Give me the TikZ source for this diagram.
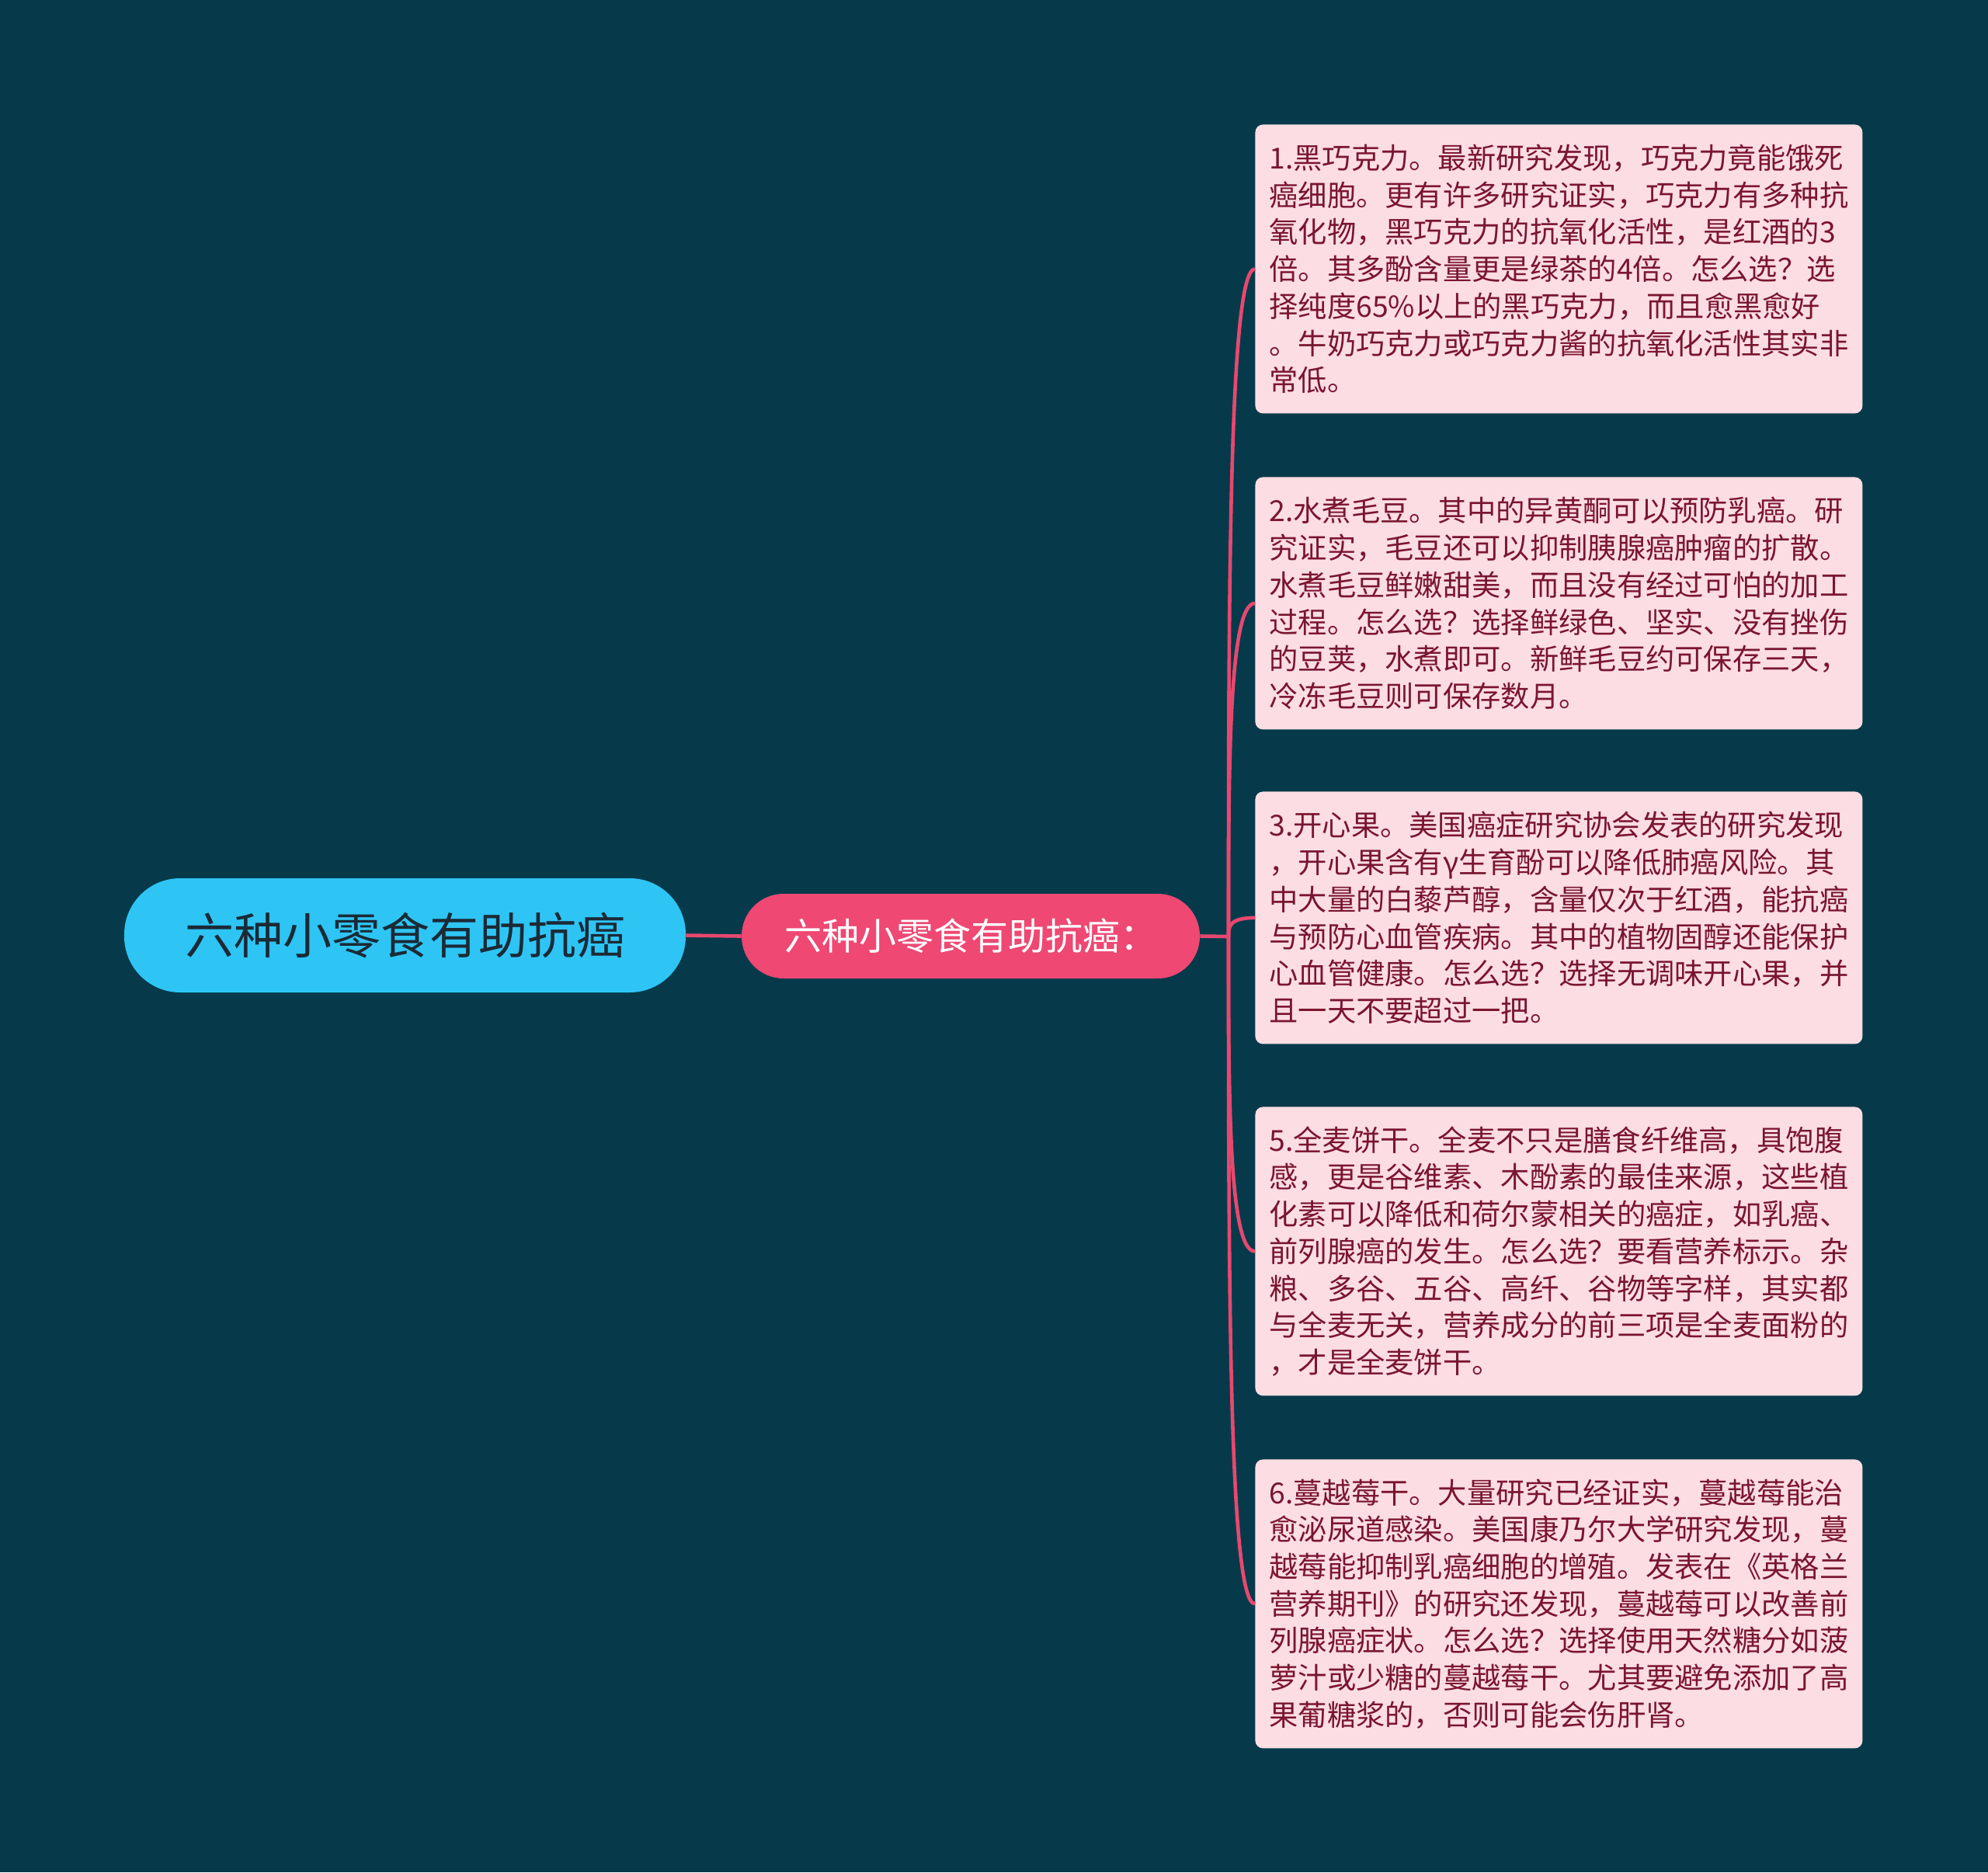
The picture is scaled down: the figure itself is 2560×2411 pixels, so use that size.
\documentclass[tikz,border=0pt]{standalone}
\usepackage{fontspec}
\setmainfont{Noto Sans CJK SC}
\usetikzlibrary{calc}
\definecolor{bgcol}{HTML}{063A4B}
\definecolor{rootfill}{HTML}{2EC5F5}
\definecolor{roottext}{HTML}{1B2A35}
\definecolor{mainfill}{HTML}{EE4873}
\definecolor{leaffill}{HTML}{FCDDE3}
\definecolor{leaftext}{HTML}{7A1530}
\definecolor{conncol}{HTML}{E8486F}
\begin{document}
\begin{tikzpicture}[x=0.5pt,y=-0.5pt,
  rootbox/.style={fill=rootfill, text=roottext, rounded corners=36pt,
    minimum width=361.5pt, minimum height=73.5pt, inner sep=0pt,
    font=\fontsize{31.5pt}{36pt}\selectfont},
  mainbox/.style={fill=mainfill, text=white, rounded corners=27pt,
    minimum width=295pt, minimum height=54.5pt, inner sep=0pt,
    font=\fontsize{24pt}{28pt}\selectfont},
  leafbox/.style={fill=leaffill, text=leaftext, rounded corners=5pt,
    anchor=north west, text width=373pt, align=left, inner xsep=9pt, inner ysep=0pt,
    font=\fontsize{18.65pt}{23.85pt}\selectfont},
  conn/.style={draw=conncol, line width=2.3pt}
]
\fill[bgcol] (0,0) rectangle (2560,2411);
\useasboundingbox (0,0) rectangle (2560,2411);

\node[rootbox] (root) at (521.5,1204.5) {六种小零食有助抗癌};
\node[mainbox] (main) at (1250,1205.5) {六种小零食有助抗癌：};

\node[leafbox, minimum height=186pt] (b1) at (1616,160) {1.黑巧克力。最新研究发现，巧克力竟能饿死\\癌细胞。更有许多研究证实，巧克力有多种抗\\氧化物，黑巧克力的抗氧化活性，是红酒的3\\倍。其多酚含量更是绿茶的4倍。怎么选？选\\择纯度65\%以上的黑巧克力，而且愈黑愈好\\。牛奶巧克力或巧克力酱的抗氧化活性其实非\\常低。};
\node[leafbox, minimum height=162.5pt] (b2) at (1616,614) {2.水煮毛豆。其中的异黄酮可以预防乳癌。研\\究证实，毛豆还可以抑制胰腺癌肿瘤的扩散。\\水煮毛豆鲜嫩甜美，而且没有经过可怕的加工\\过程。怎么选？选择鲜绿色、坚实、没有挫伤\\的豆荚，水煮即可。新鲜毛豆约可保存三天，\\冷冻毛豆则可保存数月。};
\node[leafbox, minimum height=162.5pt] (b3) at (1616,1019) {3.开心果。美国癌症研究协会发表的研究发现\\，开心果含有γ生育酚可以降低肺癌风险。其\\中大量的白藜芦醇，含量仅次于红酒，能抗癌\\与预防心血管疾病。其中的植物固醇还能保护\\心血管健康。怎么选？选择无调味开心果，并\\且一天不要超过一把。};
\node[leafbox, minimum height=186pt] (b5) at (1616,1425) {5.全麦饼干。全麦不只是膳食纤维高，具饱腹\\感，更是谷维素、木酚素的最佳来源，这些植\\化素可以降低和荷尔蒙相关的癌症，如乳癌、\\前列腺癌的发生。怎么选？要看营养标示。杂\\粮、多谷、五谷、高纤、谷物等字样，其实都\\与全麦无关，营养成分的前三项是全麦面粉的\\，才是全麦饼干。};
\node[leafbox, minimum height=186pt] (b6) at (1616,1879) {6.蔓越莓干。大量研究已经证实，蔓越莓能治\\愈泌尿道感染。美国康乃尔大学研究发现，蔓\\越莓能抑制乳癌细胞的增殖。发表在《英格兰\\营养期刊》的研究还发现，蔓越莓可以改善前\\列腺癌症状。怎么选？选择使用天然糖分如菠\\萝汁或少糖的蔓越莓干。尤其要避免添加了高\\果葡糖浆的，否则可能会伤肝肾。};

\coordinate (j) at (1582,1206);
\draw[conn] (root.east) -- (main.west);
\draw[conn] (main.east) -- (j);
\foreach \b in {b1,b2,b3,b5,b6}{
  \draw[conn] (j) .. controls ($(j)!0.5!(j |- \b.west)$) and (j |- \b.west) .. (\b.west);
}
\end{tikzpicture}
\end{document}
